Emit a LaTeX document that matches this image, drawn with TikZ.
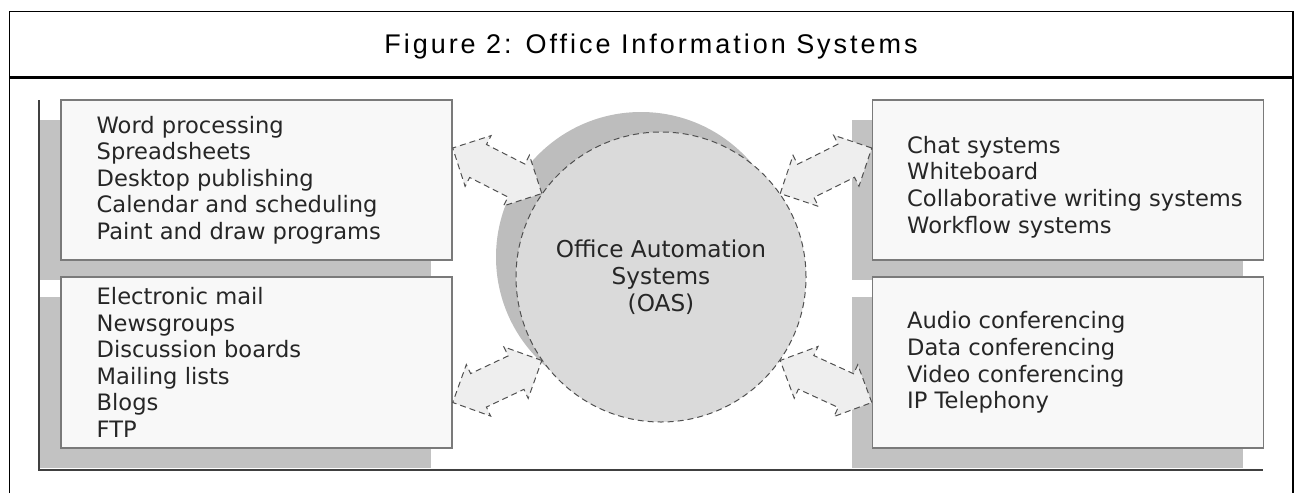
\documentclass[tikz,border=0pt]{standalone}
\usepackage{fontspec}
\setmainfont{DejaVu Sans}
\newfontfamily\titlefont[LetterSpace=11]{Liberation Sans}
\usetikzlibrary{shapes.arrows,shadows,positioning,calc}
\definecolor{boxfill}{HTML}{F8F8F8}
\definecolor{boxline}{HTML}{7A7A7A}
\definecolor{boxshade}{HTML}{C2C2C2}
\definecolor{hubfill}{HTML}{DADADA}
\definecolor{hubshade}{HTML}{BDBDBD}
\definecolor{hubline}{HTML}{505050}
\definecolor{arrowfill}{HTML}{EEEEEE}
\definecolor{arrowline}{HTML}{505050}
\definecolor{framegray}{HTML}{404040}

\begin{document}
\begin{tikzpicture}[x=0.5pt,y=-0.5pt]
\tikzstyle{every node}=[font=\fontsize{11.3}{13.3}\selectfont, text=black!85]
\tikzstyle{listbox}=[rectangle, draw=boxline, line width=0.7pt, fill=boxfill, minimum width=195.5pt, inner sep=0pt, drop shadow={shadow xshift=-10.5pt, shadow yshift=-10pt, fill=boxshade, opacity=1}]
\tikzstyle{items}=[align=left, inner sep=0pt]
\tikzstyle{hub}=[circle, minimum size=145pt, inner sep=0pt, fill=hubfill, draw=hubline, densely dashed, line width=0.5pt, align=center, font=\fontsize{11.6}{13.5}\selectfont, drop shadow={shadow xshift=-10pt, shadow yshift=10pt, fill=hubshade, opacity=1}]
\tikzstyle{dblarrow}=[double arrow, double arrow head extend=5pt, double arrow tip angle=90, inner xsep=0pt, inner ysep=9pt, fill=arrowfill, draw=arrowline, densely dashed, line width=0.5pt]
\useasboundingbox (0,0) rectangle (1295,493);
\draw[line width=0.75pt] (9.3,493) |- (1293,11.7) -- (1293,493);
\draw[line width=1.3pt] (9.3,77.7) -- (1293,77.7);
\node[anchor=base, font=\titlefont\fontsize{13.5}{16}\selectfont, text=black] (title) at (651,53) {Figure 2: Office Information Systems};

\node[listbox, minimum height=80pt] (office) at (256.5,180) {};
\node[items, right=18pt of office.west] (officetxt) {Word processing\\Spreadsheets\\Desktop publishing\\Calendar and scheduling\\Paint and draw programs};
\node[listbox, minimum height=85.5pt] (messaging) at (256.5,362.5) {};
\node[items, right=18pt of messaging.west] (messagingtxt) {Electronic mail\\Newsgroups\\Discussion boards\\Mailing lists\\Blogs\\FTP};
\node[listbox, minimum height=80pt] (groupware) at (1068,180) {};
\node[items, right=17.5pt of groupware.west, yshift=-3.5pt] (groupwaretxt) {Chat systems\\Whiteboard\\Collaborative writing systems\\Workflow systems};
\node[listbox, minimum height=85.5pt] (conferencing) at (1068,362.5) {};
\node[items, right=17.5pt of conferencing.west] (conferencingtxt) {Audio conferencing\\Data conferencing\\Video conferencing\\IP Telephony};
\draw[framegray, line width=1pt] (39,100) |- (1263,470);

\node[hub] (oas) at (661,277) {Office Automation\\Systems\\(OAS)};

\coordinate (p1) at ($(office.east)+(0,16pt)$);
\coordinate (p2) at ($(messaging.east)+(0,-20pt)$);
\coordinate (p3) at ($(groupware.west)+(0,16pt)$);
\coordinate (p4) at ($(conferencing.west)+(0,-20pt)$);
\foreach \s/\t in {p1/oas.145, p2/oas.215, oas.35/p3, oas.325/p4}
  \path let \p1=($(\t)-(\s)$), \n1={atan2(\y1,\x1)}, \n2={veclen(\x1,\y1)} in
    node[dblarrow, rotate=\n1, minimum height=\n2] at ($(\s)!.5!(\t)$) {};
\end{tikzpicture}
\end{document}
